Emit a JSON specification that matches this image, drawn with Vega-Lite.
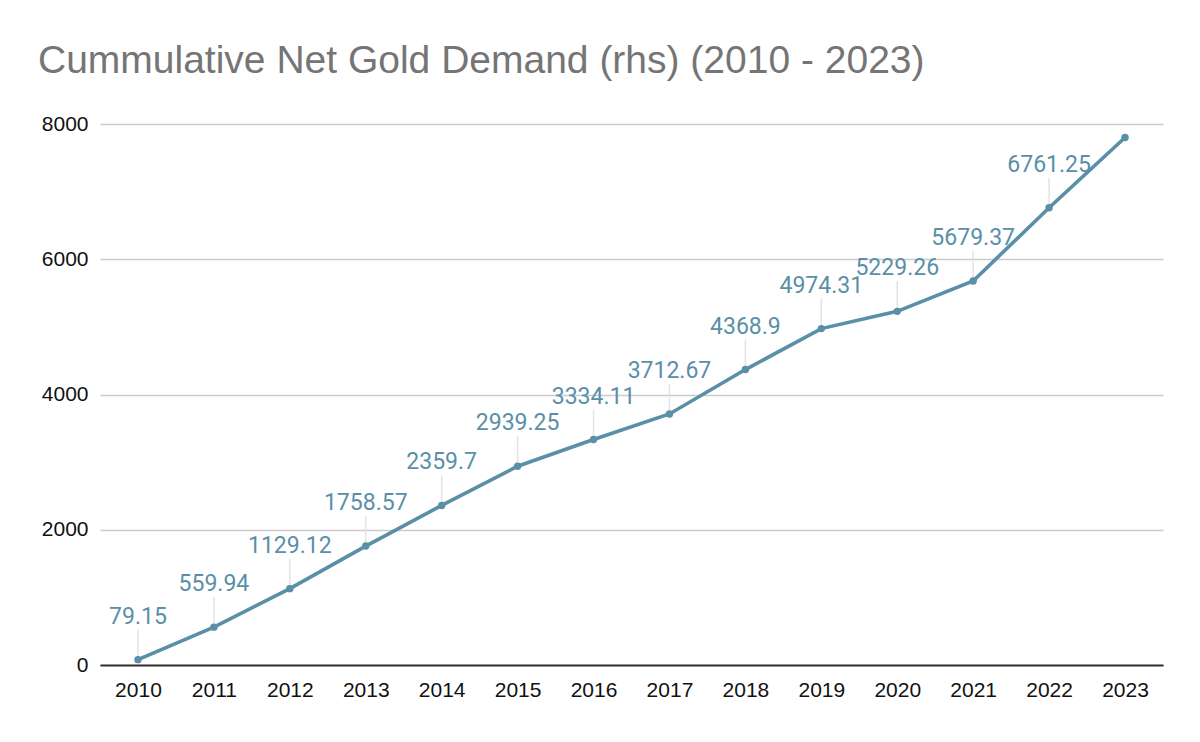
{
  "$schema": "https://vega.github.io/schema/vega-lite/v6.json",
  "width": 1063,
  "height": 541,
  "autosize": {"type": "none"},
  "padding": {"left": 100, "top": 124, "right": 37, "bottom": 77},
  "background": "white",
  "title": {
    "text": "Cummulative Net Gold Demand (rhs) (2010 - 2023)",
    "anchor": "start",
    "frame": "group",
    "dx": -62,
    "offset": 32,
    "font": "Liberation Sans",
    "fontSize": 39,
    "fontWeight": "normal",
    "color": "#757575"
  },
  "data": {
    "values": [
      {"year": "2010", "value": 79.15},
      {"year": "2011", "value": 559.94},
      {"year": "2012", "value": 1129.12},
      {"year": "2013", "value": 1758.57},
      {"year": "2014", "value": 2359.7},
      {"year": "2015", "value": 2939.25},
      {"year": "2016", "value": 3334.11},
      {"year": "2017", "value": 3712.67},
      {"year": "2018", "value": 4368.9},
      {"year": "2019", "value": 4974.31},
      {"year": "2020", "value": 5229.26},
      {"year": "2021", "value": 5679.37},
      {"year": "2022", "value": 6761.25},
      {"year": "2023", "value": 7800}
    ]
  },
  "encoding": {
    "x": {
      "field": "year",
      "type": "ordinal",
      "scale": {"type": "point", "padding": 0.5},
      "axis": {
        "title": null,
        "labelAngle": 0,
        "labelFont": "Liberation Sans",
        "labelFontSize": 21,
        "labelColor": "#111111",
        "labelPadding": 14,
        "ticks": false,
        "domainColor": "#333333",
        "domainWidth": 2,
        "grid": false
      }
    },
    "y": {
      "field": "value",
      "type": "quantitative",
      "scale": {"domain": [0, 8000], "nice": false},
      "axis": {
        "title": null,
        "values": [0, 2000, 4000, 6000, 8000],
        "format": "d",
        "labelFont": "Liberation Sans",
        "labelFontSize": 21,
        "labelColor": "#111111",
        "labelPadding": 12,
        "ticks": false,
        "domain": false,
        "gridColor": "#cccccc",
        "gridWidth": 1.3
      }
    }
  },
  "layer": [
    {
      "transform": [{"filter": "datum.year != '2023'"}],
      "mark": {"type": "rule", "color": "#e3e3e3", "strokeWidth": 1.5, "y2Offset": -30},
      "encoding": {"y2": {"field": "value"}}
    },
    {
      "mark": {"type": "line", "color": "#5a8fa8", "strokeWidth": 3.6}
    },
    {
      "mark": {"type": "point", "filled": true, "color": "#5a8fa8", "size": 55, "opacity": 1}
    },
    {
      "transform": [{"filter": "datum.year != '2023'"}],
      "mark": {"type": "text", "color": "#5a8fa8", "font": "Roboto", "fontSize": 23, "baseline": "alphabetic", "dy": -36},
      "encoding": {"text": {"field": "value", "type": "nominal"}}
    }
  ],
  "config": {"view": {"stroke": null}}
}
